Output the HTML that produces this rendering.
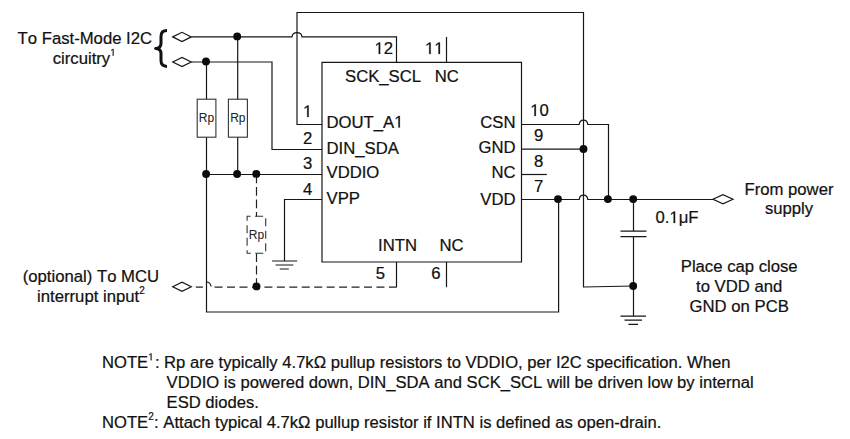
<!DOCTYPE html>
<html><head><meta charset="utf-8">
<style>
html,body{margin:0;padding:0;background:#fff;}
body{width:850px;height:439px;overflow:hidden;}
svg{display:block;}
text{font-family:"Liberation Sans",sans-serif;fill:#111;font-kerning:none;stroke:#111;stroke-width:0.22;}
.one{stroke:none;}
.w{fill:none;stroke:#161616;stroke-width:1.2;}
.t{font-size:16.7px;}
.t .n{font-size:16.62px;}
.rp{font-size:12px;}
.rp text{stroke-width:0.05;fill:#222;stroke:#222;}
.dot{fill:#0c0c0c;}
.one{fill:transparent;}
</style></head>
<body>
<svg width="850" height="439" viewBox="0 0 850 439">
<!-- chip -->
<path class="w" d="M322,62.4 H521.5 V262 H322 Z"/>
<!-- pin1 long wire -->
<path class="w" d="M322,124.5 H297 V12.5 H583.5 V287 L633.5,286"/>
<!-- SCK line (pin 12) -->
<path class="w" d="M191.5,36.9 H292 C292.5,31.2 301.5,31.2 302,36.9 H396.5 V62.4"/>
<!-- pin 11 -->
<path class="w" d="M446.5,36.9 V62.4"/>
<!-- SDA line (pin 2) -->
<path class="w" d="M191.5,62 H272 V149.5 H322"/>
<!-- VDDIO pin3 -->
<path class="w" d="M206.5,174.5 H322"/>
<!-- VPP pin4 -> ground -->
<path class="w" d="M322,199.5 H284.5 V261"/>
<path class="w" d="M272.1,261 H297.2 M275.6,265 H293.3 M279.7,269 H288.8"/>
<!-- resistor 1 column -->
<path class="w" d="M206.5,62 V99.2 M206.5,137.2 V312 H558.6 V199.5"/>
<path class="w" d="M206.5,281.8 A4.8,4.8 0 0 1 211,286.6"/>
<rect class="w" style="stroke:#333;stroke-width:1.1" x="197.2" y="99.2" width="18.7" height="38"/>
<!-- resistor 2 column -->
<path class="w" d="M237.7,36.9 V99.2 M237.7,137.2 V174.5"/>
<rect class="w" style="stroke:#333;stroke-width:1.1" x="228.4" y="99.2" width="19" height="38"/>
<!-- right pins -->
<path class="w" d="M521.5,124.5 H579.2 C579.7,118.7 587.3,118.7 587.8,124.5 H608.5 V199.5"/>
<path class="w" d="M521.5,149.2 H583.5"/>
<path class="w" d="M521.5,174.5 H546.8"/>
<path class="w" d="M521.5,199.5 H579.2 C579.7,193.7 587.3,193.7 587.8,199.5 H712.9"/>
<!-- cap -->
<path class="w" d="M633.5,199.5 V231.2 M620.5,231.2 H646.5 M620.5,236.6 H646.5 M633.5,236.6 V316"/>
<path class="w" d="M620.5,316.1 H646 M624.5,320.2 H642 M628.4,324.4 H638"/>
<!-- pin5/6 bottom -->
<path class="w" d="M396.5,262 V287.3 M446.5,262 V287.3"/>
<!-- dashed optional -->
<path class="w" d="M195.8,287.1 H202.9"/>
<path class="w" d="M214.6,287.1 H396.5" style="stroke-dasharray:8 4.45;stroke:#222"/>
<path class="w" d="M256.5,174.5 V216.4" style="stroke-dasharray:8.8 3.7;stroke:#222"/>
<path class="w" d="M256.5,253.3 V287" style="stroke-dasharray:8.8 3.7;stroke:#222"/>
<path class="w" d="M247.1,253.3 V216.3 H265.7 V253.3 Z" style="stroke-dasharray:8 4.5;stroke-dashoffset:5;stroke:#333;stroke-width:1.1"/>
<!-- diamonds -->
<path class="w" d="M172.7,36.9 L182,32.3 L191.3,36.9 L182,41.5 Z"/>
<path class="w" d="M172.7,62 L182,57.4 L191.3,62 L182,66.6 Z"/>
<path class="w" d="M172.7,286.7 L182,282.1 L191.3,286.7 L182,291.3 Z"/>
<path class="w" d="M712.9,199.2 L723,194.6 L733,199.2 L723,203.8 Z"/>
<!-- dots -->
<g class="dot">
<circle cx="237.2" cy="36.4" r="3.95"/>
<circle cx="206" cy="61.5" r="3.95"/>
<circle cx="206.1" cy="174" r="3.95"/>
<circle cx="237.1" cy="174" r="3.95"/>
<circle cx="256.3" cy="173.9" r="3.95"/>
<circle cx="256.5" cy="286.4" r="3.95"/>
<circle cx="583.5" cy="149" r="3.95"/>
<circle cx="558" cy="199.1" r="3.95"/>
<circle cx="607.9" cy="199.1" r="3.95"/>
<circle cx="633.2" cy="199.1" r="3.95"/>
<circle cx="633.2" cy="286" r="3.95"/>
</g>
<!-- brace -->
<path d="M167,30.6 Q161,30.6 161,36.4 V43.2 Q161,48.3 155.6,48.4 Q161,48.5 161,53.4 V60.6 Q161,66.4 167,66.4" fill="none" stroke="#111" stroke-width="3" stroke-linejoin="round"/>
<!-- labels -->
<g class="t">
<text x="17.6" y="43.8">To Fast-Mode I2C</text>
<text x="52.7" y="63.5">circuitry<tspan dy="-7.7" style="font-size:10px"><tspan class="one">1</tspan></tspan></text>
<text x="374.5" y="54"><tspan class="one">1</tspan>2</text>
<text x="425" y="54"><tspan class="one">1</tspan><tspan class="one">1</tspan></text>
<text x="345" y="81.7">SCK_SCL</text>
<text x="434.8" y="81.7">NC</text>
<text x="303" y="117"><tspan class="one">1</tspan></text>
<text x="303" y="143.6">2</text>
<text x="303" y="168.6">3</text>
<text x="303" y="194.6">4</text>
<text x="326.5" y="127.6">DOUT_A<tspan class="one">1</tspan></text>
<text x="326.5" y="153.9">DIN_SDA</text>
<text x="326.5" y="178.4">VDDIO</text>
<text x="326.5" y="204">VPP</text>
<text x="515.5" y="127.7" text-anchor="end">CSN</text>
<text x="515.5" y="153.1" text-anchor="end">GND</text>
<text x="515.5" y="178.3" text-anchor="end">NC</text>
<text x="515.5" y="204.5" text-anchor="end">VDD</text>
<text x="530.2" y="116"><tspan class="one">1</tspan>0</text>
<text x="534" y="140.8">9</text>
<text x="534" y="167">8</text>
<text x="534" y="191.9">7</text>
<text x="378" y="250.5">INTN</text>
<text x="439.5" y="250.5">NC</text>
<text x="375.7" y="279.3">5</text>
<text x="431.2" y="279.3">6</text>
<text x="655.5" y="223.1">0.<tspan class="one">1</tspan>μF</text>
<text x="789" y="194.7" text-anchor="middle">From power</text>
<text x="789" y="213.9" text-anchor="middle">supply</text>
<text x="739.2" y="271.6" text-anchor="middle">Place cap close</text>
<text x="739.2" y="291.8" text-anchor="middle">to VDD and</text>
<text x="739.2" y="311.7" text-anchor="middle">GND on PCB</text>
<text x="90.9" y="282.1" text-anchor="middle">(optional) To MCU</text>
<text x="90.9" y="301.8" text-anchor="middle">interrupt input<tspan dy="-7.7" style="font-size:10px">2</tspan></text>
<text class="n" x="102" y="368">NOTE<tspan dy="-7.7" style="font-size:10px"><tspan class="one">1</tspan></tspan><tspan dy="7.7" dx="1.2">: Rp are typically 4.7kΩ pullup resistors to VDDIO, per I2C specification. When</tspan></text>
<text class="n" x="166.6" y="388">VDDIO is powered down, DIN_SDA and SCK_SCL will be driven low by internal</text>
<text class="n" x="166.6" y="408">ESD diodes.</text>
<text class="n" x="102" y="427.8">NOTE<tspan dy="-7.7" style="font-size:10px">2</tspan><tspan dy="7.7" dx="0.4">: Attach typical 4.7kΩ pullup resistor if INTN is defined as open-drain.</tspan></text>
</g>
<g class="rp">
<text x="206.4" y="121.7" text-anchor="middle">Rp</text>
<text x="237.8" y="121.7" text-anchor="middle">Rp</text>
<text x="256.5" y="238.7" text-anchor="middle">Rp</text>
</g>
<path fill="#111" stroke="#111" stroke-width="0.22" d="M112.70,55.80 L112.70,49.76 L111.15,50.87 L111.15,50.04 L112.77,48.92 L113.58,48.92 L113.58,55.80Z M378.70,54.00 L378.70,43.91 L376.11,45.76 L376.11,44.38 L378.82,42.51 L380.18,42.51 L380.18,54.00Z M429.20,54.00 L429.20,43.91 L426.61,45.76 L426.61,44.38 L429.32,42.51 L430.68,42.51 L430.68,54.00Z M438.48,54.00 L438.48,43.91 L435.89,45.76 L435.89,44.38 L438.60,42.51 L439.96,42.51 L439.96,54.00Z M307.20,117.00 L307.20,106.91 L304.61,108.76 L304.61,107.38 L307.32,105.51 L308.68,105.51 L308.68,117.00Z M398.39,127.60 L398.39,117.51 L395.79,119.36 L395.79,117.98 L398.51,116.11 L399.86,116.11 L399.86,127.60Z M534.40,116.00 L534.40,105.91 L531.81,107.76 L531.81,106.38 L534.52,104.51 L535.88,104.51 L535.88,116.00Z M673.62,223.10 L673.62,213.01 L671.03,214.86 L671.03,213.48 L673.74,211.61 L675.10,211.61 L675.10,223.10Z M150.66,360.30 L150.66,354.26 L149.10,355.37 L149.10,354.54 L150.73,353.42 L151.54,353.42 L151.54,360.30Z"/>
</svg>
</body></html>
